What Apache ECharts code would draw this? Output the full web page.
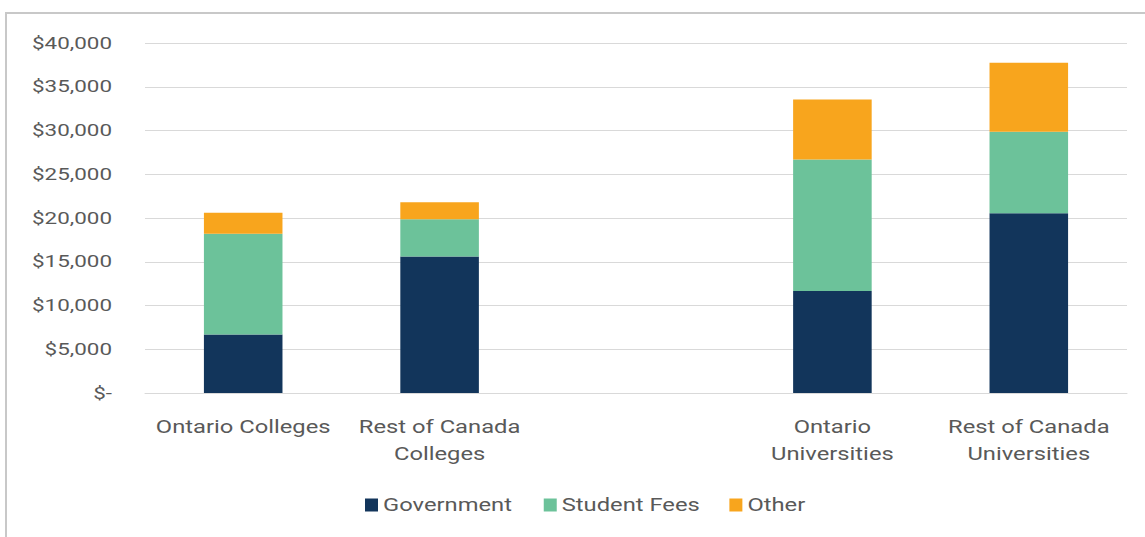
<!DOCTYPE html>
<html>
<head>
<meta charset="utf-8">
<script src="https://cdn.jsdelivr.net/npm/echarts@6/dist/echarts.min.js"></script>
<style>
html, body { margin: 0; padding: 0; background: #fff; }
#main { width: 1145px; height: 537px; }
</style>
</head>
<body>
<div id="main"></div>
<script>
// categories (empty slot makes the gap between colleges and universities)
var categories = ['Ontario Colleges', 'Rest of Canada\nColleges', '', 'Ontario\nUniversities', 'Rest of Canada\nUniversities'];
var government = [6700, 15600, null, 11650, 20550];
var studentFees = [11500, 4250, null, 15050, 9300];
var other = [2400, 1950, null, 6850, 7900];
var yMax = 40000;
var yStep = 5000;

var labelColor = '#595959';
var fontFam = 'Roboto, "Noto Sans", sans-serif';
var textStretch = 1.32; // source text is drawn wide

function money(v) {
	if (v == 0) return '$-';
	return '$' + v.toString().replace(/\B(?=(\d{3})+(?!\d))/g, ',');
}

function barSeries(name, data, color) {
	return {
		name: name,
		type: 'bar',
		stack: 'total',
		barWidth: '40%',
		data: data,
		itemStyle: { color: color },
		emphasis: { disabled: true }
	};
}

// widen glyphs around their anchor point (svg renderer)
function stretchText() {
	var texts = document.querySelectorAll('#main svg text');
	for (var i = 0; i < texts.length; i++) {
		var t = texts[i];
		if (t.getAttribute('data-wide')) continue;
		var tx = parseFloat(t.getAttribute('x') || 0);
		var ty = parseFloat(t.getAttribute('y') || 0);
		var tr = t.getAttribute('transform') || '';
		t.setAttribute('transform', tr + ' translate(' + tx + ',' + ty + ') scale(' + textStretch + ',1)');
		t.setAttribute('x', 0);
		t.setAttribute('y', 0);
		t.setAttribute('data-wide', '1');
	}
}

var chart = echarts.init(document.getElementById('main'), null, { renderer: 'svg' });
chart.setOption({
	animation: false,
	graphic: [{
		type: 'rect',
		shape: { x: 6, y: 13, width: 1150, height: 540 },
		style: { fill: 'none', stroke: '#c8c8c8', lineWidth: 2 },
		silent: true
	}],
	grid: { left: 145, right: 18, top: 43, bottom: 144 },
	legend: {
		bottom: 18,
		left: 360,
		itemWidth: 13,
		itemHeight: 13,
		itemGap: 63,
		icon: 'rect',
		textStyle: { color: labelColor, fontSize: 18, fontFamily: fontFam },
		data: ['Government', 'Student Fees', 'Other']
	},
	xAxis: {
		type: 'category',
		data: categories,
		axisLine: { show: true, lineStyle: { color: '#d9d9d9', width: 1 } },
		axisTick: { show: false },
		axisLabel: { color: labelColor, fontSize: 18, fontFamily: fontFam, margin: 20, lineHeight: 27, interval: 0 }
	},
	yAxis: {
		type: 'value',
		min: 0,
		max: yMax,
		interval: yStep,
		axisLine: { show: false },
		axisTick: { show: false },
		splitLine: { lineStyle: { color: '#d9d9d9', width: 1 } },
		axisLabel: { color: labelColor, fontSize: 17, fontFamily: fontFam, margin: 33, formatter: money }
	},
	series: [
		barSeries('Government', government, '#12355b'),
		barSeries('Student Fees', studentFees, '#6cc29a'),
		barSeries('Other', other, '#f8a51d')
	]
});
stretchText();
chart.on('finished', stretchText);
</script>
</body>
</html>
